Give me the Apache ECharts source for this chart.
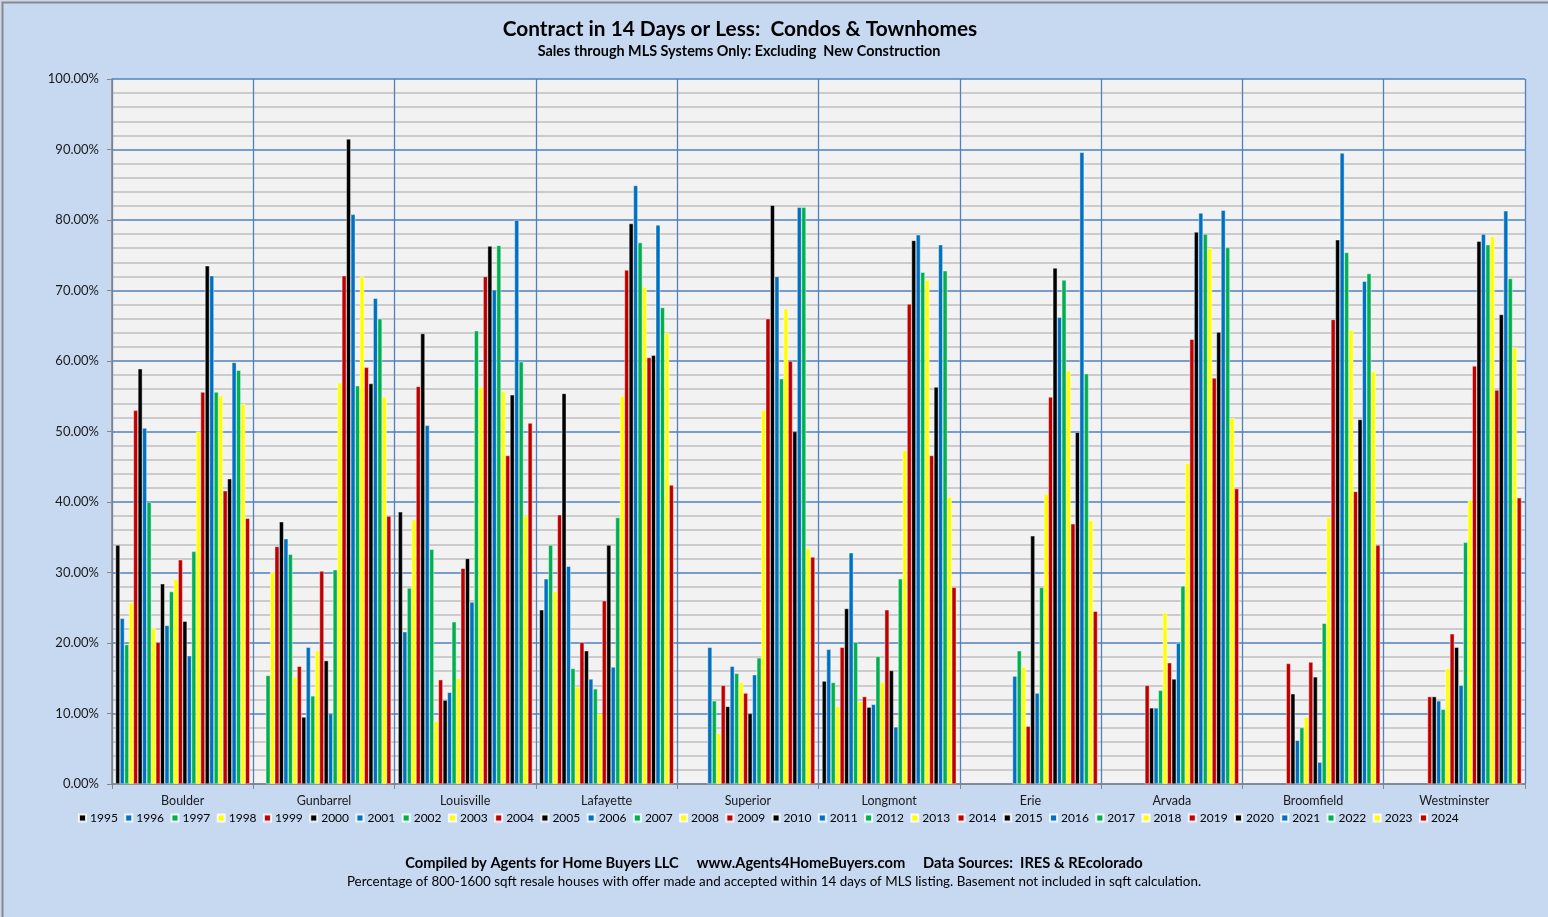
<!DOCTYPE html>
<html lang="en">
<head>
<meta charset="UTF-8">
<title>Contract in 14 Days or Less: Condos & Townhomes</title>
<script src="https://cdn.jsdelivr.net/npm/echarts@6/dist/echarts.min.js"></script>
<style>
  html, body { margin: 0; padding: 0; background: #c6d9f1; }
  #chart { width: 1548px; height: 917px; }
</style>
</head>
<body>
<div id="chart"></div>
<script>
// cities on the x axis
var cities = ['Boulder', 'Gunbarrel', 'Louisville', 'Lafayette', 'Superior',
              'Longmont', 'Erie', 'Arvada', 'Broomfield', 'Westminster'];
var years = [];
for (var y = 1995; y <= 2024; y++) years.push(String(y));

// percent contracted within 14 days, one value per year 1995..2024 (null = no data)
var boulder = [33.9, 23.5, 19.8, 25.7, 53.0, 58.9, 50.5, 40.0, 22.1, 20.1, 28.4, 22.5, 27.3, 29.0, 31.8,
               23.1, 18.2, 33.0, 50.0, 55.6, 73.5, 72.1, 55.6, 55.1, 41.6, 43.3, 59.8, 58.7, 53.9, 37.7];
var gunbarrel = [null, null, 15.4, 30.1, 33.7, 37.2, 34.8, 32.6, 15.2, 16.7, 9.5, 19.4, 12.5, 18.9, 30.2,
                 17.5, 10.0, 30.4, 56.9, 72.1, 91.5, 80.8, 56.5, 72.0, 59.1, 56.8, 68.9, 66.0, 54.9, 38.0];
var louisville = [38.6, 21.6, 27.8, 37.5, 56.4, 63.9, 50.9, 33.3, 8.9, 14.8, 11.9, 13.0, 23.0, 15.0, 30.6,
                  32.0, 25.8, 64.3, 56.3, 72.0, 76.3, 70.1, 76.4, 55.7, 46.6, 55.2, 80.0, 59.9, 38.1, 51.2];
var lafayette = [24.7, 29.1, 33.9, 27.3, 38.2, 55.4, 30.9, 16.4, 13.8, 20.1, 18.9, 14.9, 13.5, 10.0, 26.0,
                 33.9, 16.6, 37.8, 55.0, 72.9, 79.5, 84.9, 76.8, 70.5, 60.5, 60.8, 79.3, 67.6, 64.0, 42.4];
var superior = [null, null, null, null, null, null, 19.4, 11.8, 7.2, 14.0, 11.0, 16.7, 15.7, 14.4, 12.9,
                10.0, 15.5, 17.9, 53.0, 66.0, 82.1, 72.0, 57.5, 67.4, 60.0, 50.0, 81.8, 81.8, 33.4, 32.2];
var longmont = [14.6, 19.1, 14.4, 11.0, 19.4, 24.9, 32.8, 20.1, 11.7, 12.4, 10.9, 11.3, 18.1, 14.4, 24.7,
                16.1, 8.1, 29.1, 47.3, 68.1, 77.1, 77.9, 72.6, 71.5, 46.6, 56.3, 76.5, 72.8, 40.7, 27.9];
var erie = [null, null, null, null, null, null, null, null, null, null, null, 15.3, 18.9, 16.6, 8.2,
            35.2, 12.9, 27.9, 41.1, 54.9, 73.2, 66.2, 71.5, 58.6, 36.9, 49.9, 89.6, 58.2, 37.4, 24.5];
var arvada = [null, null, null, null, null, null, null, null, null, 14.0, 10.8, 10.8, 13.3, 24.3, 17.2,
              14.9, 20.0, 28.1, 45.5, 63.1, 78.3, 81.0, 78.0, 76.0, 57.6, 64.1, 81.4, 76.1, 51.9, 41.9];
var broomfield = [null, null, null, null, null, null, null, null, null, 17.1, 12.8, 6.2, 8.0, 9.5, 17.3,
                  15.2, 3.1, 22.8, 37.8, 65.9, 77.2, 89.5, 75.4, 64.4, 41.5, 51.7, 71.3, 72.4, 58.5, 33.9];
var westminster = [null, null, null, null, null, null, null, null, null, 12.4, 12.4, 11.8, 10.6, 16.4, 21.3,
                   19.4, 14.0, 34.3, 40.3, 59.3, 77.0, 78.0, 76.5, 77.7, 55.9, 66.6, 81.3, 71.7, 61.9, 40.6];

var cityData = [boulder, gunbarrel, louisville, lafayette, superior,
                longmont, erie, arvada, broomfield, westminster];

// year colours repeat every five years
var palette = ['#000000', '#0070c0', '#00b050', '#ffff00', '#c00000'];

var font = 'Lato, "Liberation Sans", sans-serif';

var series = years.map(function (yr, i) {
  return {
    name: yr,
    type: 'bar',
    barGap: '0%',
    barCategoryGap: '5%',
    itemStyle: {
      color: palette[i % 5],
      borderColor: 'rgba(255,255,255,0.85)',
      borderWidth: 0.5
    },
    data: cityData.map(function (c) { return c[i]; })
  };
});

var myChart = echarts.init(document.getElementById('chart'));
var option = {
  animation: false,
  backgroundColor: '#c6d9f1',
  textStyle: { fontFamily: font },
  color: palette,
  grid: {
    left: 112, right: 23, top: 79, bottom: 133,
    show: true,
    backgroundColor: '#f2f2f2',
    borderWidth: 0
  },
  legend: {
    top: 807,
    left: 73,
    itemWidth: 7,
    itemHeight: 7,
    itemGap: 6.4,
    icon: 'rect',
    textStyle: { fontSize: 12, color: '#000', fontFamily: font, padding: [0, 0, 0, -1] },
    data: years
  },
  xAxis: {
    type: 'category',
    data: cities,
    axisLine: { lineStyle: { color: '#868686', width: 1.5 } },
    axisTick: { show: true, length: 5, lineStyle: { color: '#868686' } },
    axisLabel: { fontSize: 12.5, color: '#1a1a1a', margin: 10 },
    splitLine: { show: true, lineStyle: { color: '#4f81bd', width: 1.3 } }
  },
  yAxis: {
    type: 'value',
    min: 0,
    max: 100,
    interval: 10,
    axisLine: { show: true, lineStyle: { color: '#868686', width: 1.5 } },
    axisTick: { show: true, length: 5, lineStyle: { color: '#868686' } },
    axisLabel: {
      fontSize: 13, color: '#1a1a1a', margin: 13,
      formatter: function (v) { return v.toFixed(2) + '%'; }
    },
    splitLine: { show: true, lineStyle: { color: '#4f81bd', width: 1.5 } },
    minorTick: { show: false, splitNumber: 5 },
    minorSplitLine: { show: true, lineStyle: { color: '#bfbfbf', width: 1.5 } }
  },
  graphic: [
    {
      type: 'rect', left: 0, top: 0, z: 100, silent: true,
      shape: { width: 1547, height: 916 },
      style: { fill: 'none', stroke: '#8a8a8a', lineWidth: 2 }
    },
    {
      type: 'text', x: 740, y: 29, z: 100,
      style: {
        text: 'Contract in 14 Days or Less:  Condos & Townhomes',
        font: 'bold 20.8px ' + font, fill: '#000',
        textAlign: 'center', textVerticalAlign: 'middle'
      }
    },
    {
      type: 'text', x: 739, y: 51, z: 100,
      style: {
        text: 'Sales through MLS Systems Only: Excluding  New Construction',
        font: 'bold 14.4px ' + font, fill: '#000',
        textAlign: 'center', textVerticalAlign: 'middle'
      }
    },
    {
      type: 'text', x: 774, y: 863, z: 100,
      style: {
        text: 'Compiled by Agents for Home Buyers LLC     www.Agents4HomeBuyers.com     Data Sources:  IRES & REcolorado',
        font: 'bold 14.7px ' + font, fill: '#000',
        textAlign: 'center', textVerticalAlign: 'middle'
      }
    },
    {
      type: 'text', x: 774, y: 882, z: 100,
      style: {
        text: 'Percentage of 800-1600 sqft resale houses with offer made and accepted within 14 days of MLS listing. Basement not included in sqft calculation.',
        font: '13.4px ' + font, fill: '#000',
        textAlign: 'center', textVerticalAlign: 'middle'
      }
    }
  ],
  series: series
};
myChart.setOption(option);
</script>
</body>
</html>
